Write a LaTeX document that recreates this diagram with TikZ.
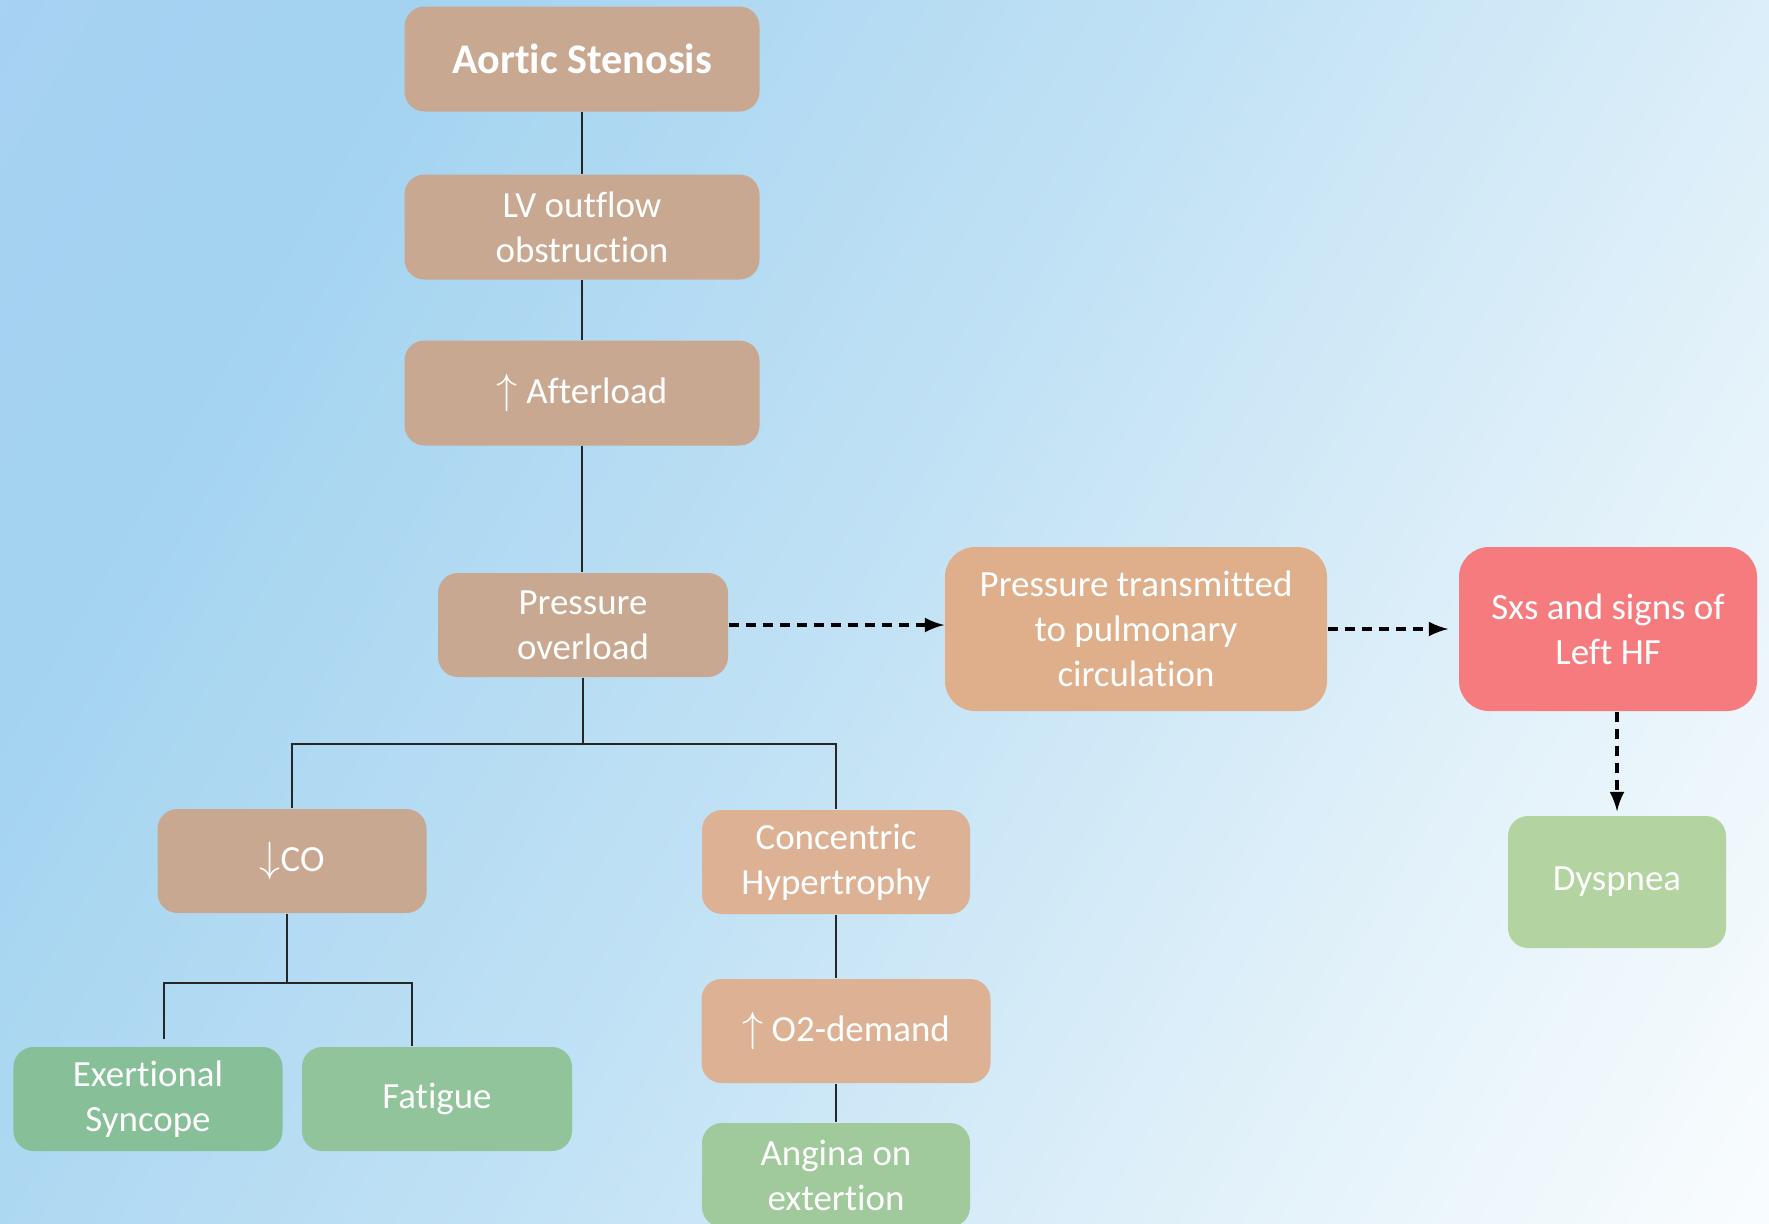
\documentclass[tikz,border=0pt]{standalone}
\usepackage{fontspec}
\setmainfont{Carlito}[Ligatures=NoCommon]
\usepackage{tikz}
\usetikzlibrary{arrows,shapes,positioning,calc}
\definecolor{skyA}{HTML}{AECFF7}
\definecolor{skyB}{HTML}{A3D3F0}
\definecolor{skyC}{HTML}{C2E2F5}
\definecolor{skyD}{HTML}{E4F2FA}
\definecolor{tanbox}{HTML}{C8A890}
\definecolor{peachbox}{HTML}{DDB194}
\definecolor{redbox}{HTML}{F57B7E}
\definecolor{greenA}{HTML}{87BF98}
\definecolor{greenB}{HTML}{91C49A}
\definecolor{greenC}{HTML}{A0C99C}
\definecolor{greenD}{HTML}{B3D4A0}
\pgfdeclarehorizontalshading{skyshade}{100bp}{color(0bp)=(skyA); color(27bp)=(skyB); color(50bp)=(skyC); color(70bp)=(skyD); color(88bp)=(white); color(100bp)=(white)}
\tikzset{
  basic/.style  = {rectangle, rounded corners=2mm, align=center, text=white,
                   inner sep=0pt, font=\fontsize{10.5}{12.8}\selectfont},
  root/.style   = {basic, fill=tanbox, minimum width=3.55cm, minimum height=1.05cm},
  cause/.style  = {basic, fill=tanbox, minimum height=1.04cm},
  effect/.style = {basic, fill=peachbox, minimum height=1.04cm},
  sign/.style   = {basic, minimum height=1.04cm},
  link/.style   = {draw=black!85, line width=0.6pt},
  flow/.style   = {draw=black, line width=0.9pt, dash pattern=on 1mm off 0.7mm, -latex}
}
\newcommand{\up}{{\large$\uparrow$}}
\newcommand{\down}{{\large$\downarrow$}}

\begin{document}
\begin{tikzpicture}[>=latex]

% background
\clip (0,0) rectangle (17.69,-12.23);
\shade[shading=skyshade, shading angle=-30] (0,0) rectangle (17.69,-12.23);

% main chain
\node[root, font=\fontsize{12}{14}\selectfont\bfseries] (as) at (5.82,-0.59) {Aortic Stenosis};
\node[root] (lv) at (5.82,-2.27) {LV outflow\\obstruction};
\node[root] (al) at (5.82,-3.93) {\up\ Afterload};
\node[cause, minimum width=2.90cm] (po) at (5.83,-6.25) {Pressure\\overload};

% left heart failure branch
\node[effect, fill=peachbox!85!orange!40!peachbox, minimum width=3.82cm, minimum height=1.64cm, rounded corners=3mm] (pt) at (11.36,-6.29) {Pressure transmitted\\to pulmonary\\circulation};
\node[basic, fill=redbox, minimum width=2.98cm, minimum height=1.64cm, rounded corners=3mm] (hf) at (16.08,-6.29) {Sxs and signs of\\Left HF};
\node[sign, fill=greenD, minimum width=2.18cm, minimum height=1.32cm] (dy) at (16.17,-8.82) {Dyspnea};

% lower branches
\node[cause, minimum width=2.69cm] (co) at (2.92,-8.61) {\down CO};
\node[effect, minimum width=2.68cm] (ch) at (8.36,-8.62) {Concentric\\Hypertrophy};
\node[effect, minimum width=2.89cm] (o2) at (8.46,-10.31) {\up\ O2-demand};
\node[sign, fill=greenC, minimum width=2.68cm] (an) at (8.36,-11.75) {Angina on\\extertion};
\node[sign, fill=greenA, minimum width=2.69cm] (ex) at (1.48,-10.99) {Exertional\\Syncope};
\node[sign, fill=greenB, minimum width=2.70cm] (fa) at (4.37,-10.99) {Fatigue};

% solid connectors
\draw[link] (as) -- (lv);
\draw[link] (lv) -- (al);
\draw[link] (al.south) -- (al.south |- po.north);
\draw[link] (po.south) -- ++(0,-0.66) coordinate (s1);
\draw[link] (co.north) -- (co.north |- s1) -- (ch.north |- s1) -- (ch.north);
\draw[link] ([xshift=-0.5mm]co.south) -- ++(0,-0.69) coordinate (s2);
\draw[link] ([xshift=1.6mm,yshift=0.7mm]ex.north) |- (s2) -| ([xshift=-2.5mm]fa.north);
\draw[link] (ch.south) -- (ch.south |- o2.north);
\draw[link] (an.north |- o2.south) -- (an.north);

% dashed arrows
\draw[flow] (po.east) -- (po.east -| pt.west);
\draw[flow, shorten >=1mm] (pt.east) -- (pt.east -| hf.west);
\draw[flow, shorten >=0.4mm] (dy.north |- hf.south) -- (dy.north);

\end{tikzpicture}
\end{document}
